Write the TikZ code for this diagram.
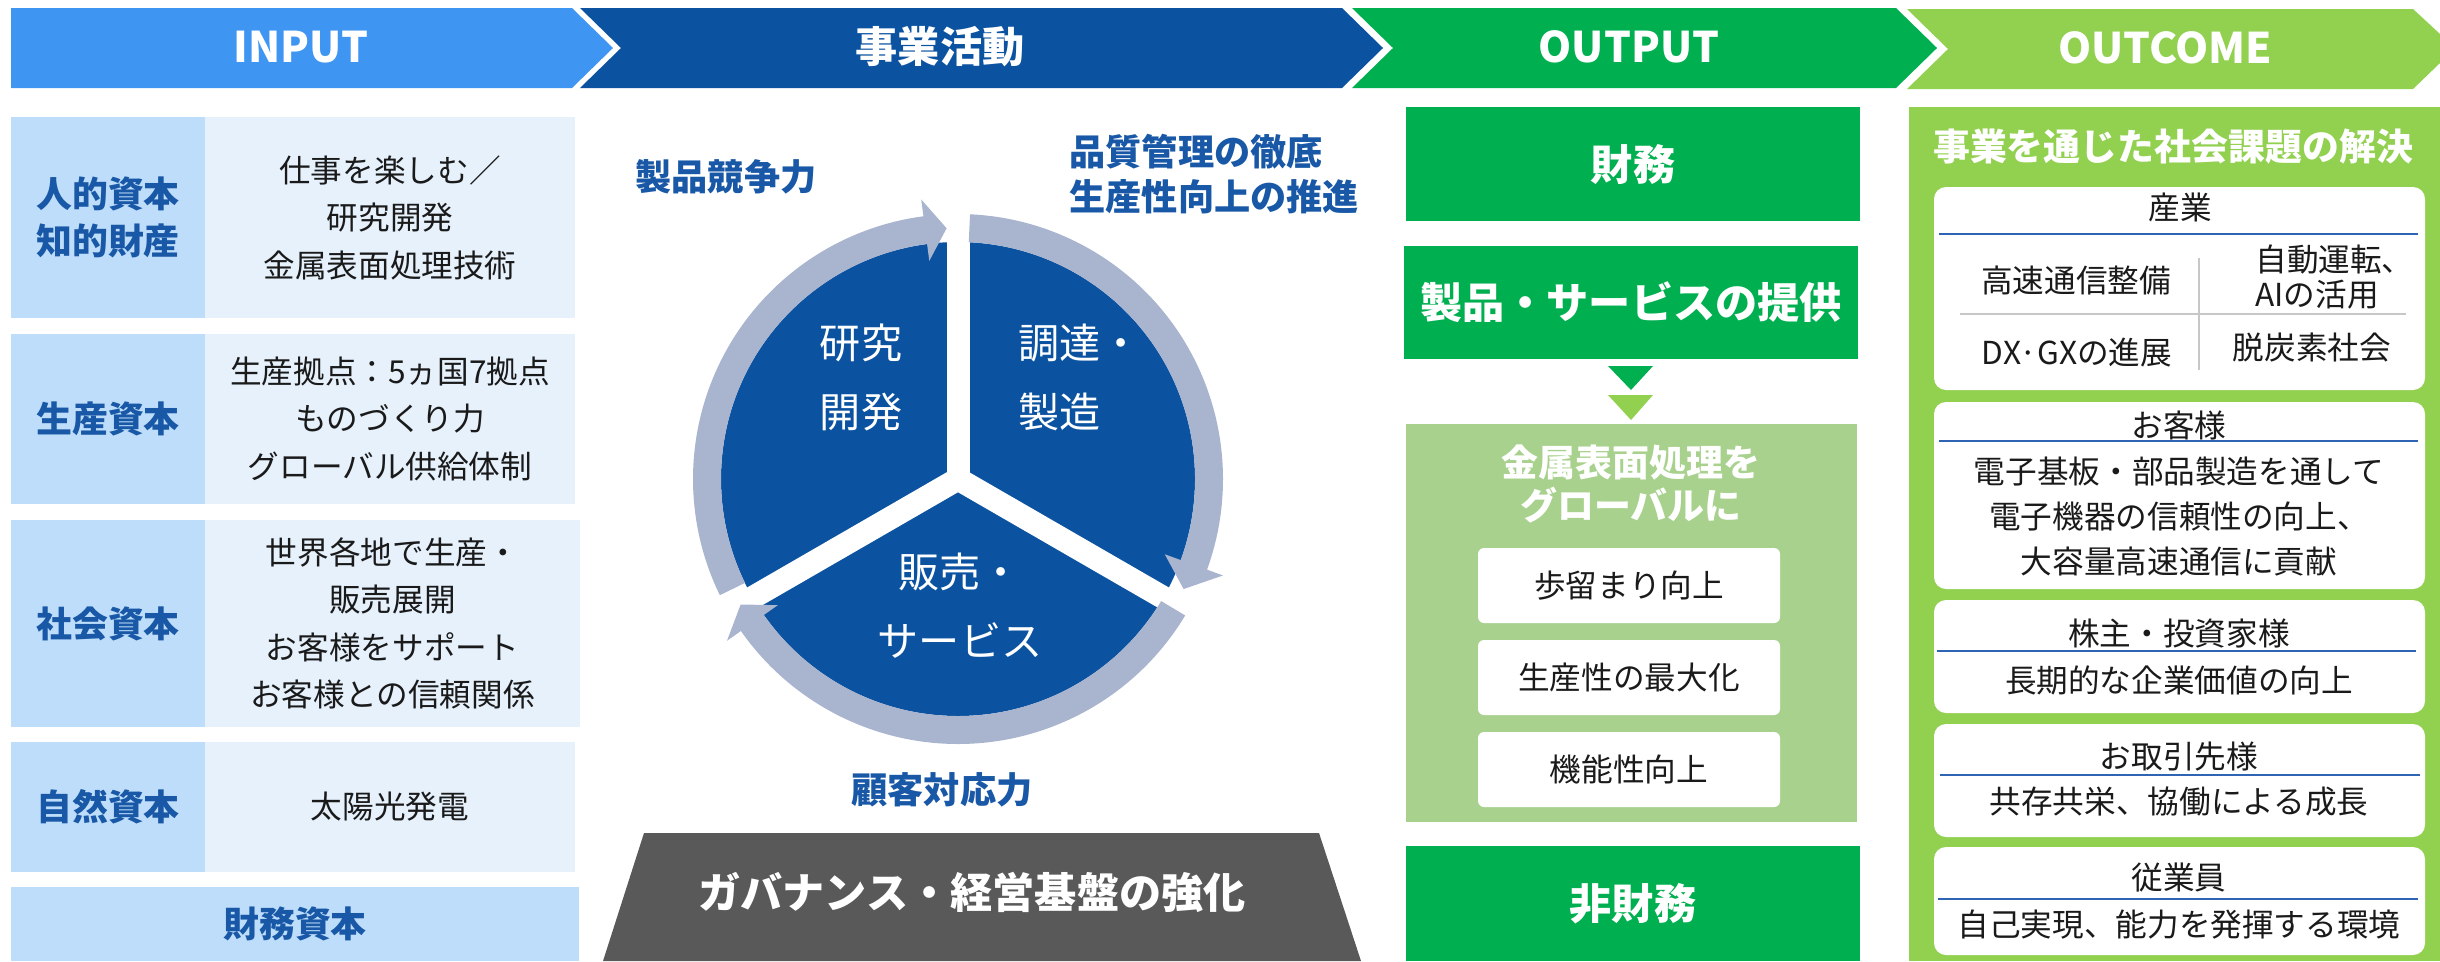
\documentclass[tikz,border=0pt]{standalone}
\usepackage{fontspec}
\setmainfont{Noto Sans CJK JP}

\definecolor{inblue}{RGB}{63,150,242}
\definecolor{actblue}{RGB}{11,82,160}
\definecolor{outgreen}{RGB}{0,176,80}
\definecolor{outcgreen}{RGB}{146,208,80}
\definecolor{capbg}{RGB}{189,221,250}
\definecolor{bodybg}{RGB}{230,241,252}
\definecolor{captext}{RGB}{24,88,166}
\definecolor{ringgray}{RGB}{169,180,207}
\definecolor{govgray}{RGB}{89,89,89}
\definecolor{panelgreen}{RGB}{169,209,142}
\definecolor{ruleblue}{RGB}{47,100,180}
\definecolor{inktext}{RGB}{26,26,26}

\begin{document}
\begin{tikzpicture}[
    hdr/.style={text=white, font=\bfseries\fontsize{12}{14}\selectfont},
    capname/.style={fill=capbg, text=captext, inner sep=0pt, minimum width=1.94cm, align=center, font=\bfseries\fontsize{10.2}{13.2}\selectfont},
    bodytext/.style={fill=bodybg, text=inktext, inner sep=0pt, minimum width=3.70cm, align=center, font=\fontsize{9}{13.5}\selectfont},
    sector/.style={text=white, align=center, font=\fontsize{11.7}{19.6}\selectfont},
    ringtag/.style={text=captext, font=\bfseries\fontsize{10.3}{12.8}\selectfont},
    outbox/.style={fill=outgreen, text=white, inner sep=0pt, minimum width=4.54cm, font=\bfseries\fontsize{12}{14}\selectfont},
    pill/.style={fill=white, text=inktext, rounded corners=0.06cm, inner sep=0pt, minimum width=3.02cm, minimum height=0.75cm, font=\fontsize{9}{12}\selectfont},
    card/.style={fill=white, rounded corners=0.12cm, inner sep=0pt, minimum width=4.91cm},
    small/.style={text=inktext, align=center, font=\fontsize{9}{12.8}\selectfont},
    whitetitle/.style={text=white, align=center, font=\bfseries\fontsize{10.5}{12}\selectfont},
    sep/.style={ruleblue, line width=0.7pt},
    grid/.style={black!22, line width=0.6pt}
]
\useasboundingbox (0,0) rectangle (24.40,-9.61);

% Header chevrons
\fill[inblue] (0.11,-0.08) -- (5.72,-0.08) -- (6.13,-0.48) -- (5.72,-0.88) -- (0.11,-0.88) -- cycle;
\fill[actblue] (5.80,-0.08) -- (13.42,-0.08) -- (13.83,-0.48) -- (13.42,-0.88) -- (5.80,-0.88) -- (6.21,-0.48) -- cycle;
\fill[outgreen] (13.52,-0.08) -- (18.96,-0.08) -- (19.37,-0.48) -- (18.96,-0.88) -- (13.52,-0.88) -- (13.93,-0.48) -- cycle;
\fill[outcgreen] (19.07,-0.09) -- (24.13,-0.09) -- (24.40,-0.34) -- (24.40,-0.63) -- (24.13,-0.89) -- (19.07,-0.89) -- (19.48,-0.49) -- cycle;
\node[hdr] (hin) at (3.01,-0.47) {INPUT};
\node[hdr] (hact) at (9.40,-0.47) {事業活動};
\node[hdr] (hout) at (16.29,-0.47) {OUTPUT};
\node[hdr] (houtc) at (21.65,-0.48) {OUTCOME};

% INPUT side
\node[capname, minimum height=2.01cm] (hum) at (1.08,-2.175) {人的資本\\知的財産};
\node[bodytext, minimum height=2.01cm] (humtxt) at (3.90,-2.175) {仕事を楽しむ／\\研究開発\\金属表面処理技術};
\node[capname, minimum height=1.70cm] (mfgcap) at (1.08,-4.19) {生産資本};
\node[bodytext, minimum height=1.70cm] (mfgtxt) at (3.90,-4.19) {生産拠点：5ヵ国7拠点\\ものづくり力\\グローバル供給体制};
\node[capname, minimum height=2.07cm] (soc) at (1.08,-6.235) {社会資本};
\node[bodytext, minimum height=2.07cm, minimum width=3.75cm] (soctxt) at (3.925,-6.235) {世界各地で生産・\\販売展開\\お客様をサポート\\お客様との信頼関係};
\node[capname, minimum height=1.30cm] (nat) at (1.08,-8.07) {自然資本};
\node[bodytext, minimum height=1.30cm] (nattxt) at (3.90,-8.07) {太陽光発電};
\node[capname, minimum width=5.68cm, minimum height=0.74cm] (money) at (2.95,-9.24) {財務資本};

% Business cycle
\begin{scope}[shift={(9.58,-4.79)}]
\fill[actblue] (0,0) circle (2.37);
\draw[white, line width=0.23cm] (0,0) -- (90:2.40);
\draw[white, line width=0.23cm] (0,0) -- (210:2.40);
\draw[white, line width=0.23cm] (0,0) -- (330:2.40);
% ring arrows, clockwise
\fill[ringgray] (206:2.65) arc[start angle=206, end angle=97.5, radius=2.65] -- (97.5:2.82) -- (92.6:2.51) -- (97.5:2.20) -- (97.5:2.37) arc[start angle=97.5, end angle=206, radius=2.37] -- cycle;
\fill[ringgray] (87.4:2.65) arc[start angle=87.4, end angle=-20, radius=2.65] -- (-20:2.82) -- (-26:2.51) -- (-20:2.20) -- (-20:2.37) arc[start angle=-20, end angle=87.4, radius=2.37] -- cycle;
\fill[ringgray] (-31:2.65) arc[start angle=-31, end angle=-145, radius=2.65] -- (-145:2.82) -- (-150:2.51) -- (-145:2.20) -- (-145:2.37) arc[start angle=-145, end angle=-31, radius=2.37] -- cycle;
\end{scope}

\node[sector] (rnd) at (8.61,-3.775) {研究\\開発};
\node[sector, anchor=west, align=left] (make) at (10.06,-3.775) {調達・\\製造};
\node[sector] (sales) at (9.60,-6.06) {販売・\\サービス};

% Labels round the cycle
\node[ringtag] (comp) at (7.26,-1.77) {製品競争力};
\node[ringtag, anchor=west, align=left] (qual) at (10.57,-1.745) {品質管理の徹底\\生産性向上の推進};
\node[ringtag] (cust) at (9.42,-7.90) {顧客対応力};

% Governance base
\fill[govgray] (6.44,-8.33) -- (13.19,-8.33) -- (13.61,-9.61) -- (6.03,-9.61) -- cycle;
\node[hdr] (gov) at (9.72,-8.92) {ガバナンス・経営基盤の強化};

% OUTPUT side
\node[outbox, minimum height=1.14cm] (fin) at (16.33,-1.64) {財務};
\node[outbox, minimum height=1.13cm] (prod) at (16.31,-3.025) {製品・サービスの提供};
\fill[outgreen] (16.08,-3.66) -- (16.53,-3.66) -- (16.31,-3.90) -- cycle;
\fill[outcgreen] (16.08,-3.95) -- (16.53,-3.95) -- (16.31,-4.20) -- cycle;
\node[fill=panelgreen, inner sep=0pt, minimum width=4.51cm, minimum height=3.98cm] (glob) at (16.315,-6.23) {};
\node[whitetitle] (globt) at (16.31,-4.84) {金属表面処理を\\グローバルに};
\node[pill] (yield) at (16.29,-5.855) {歩留まり向上};
\node[pill] (prodv) at (16.29,-6.775) {生産性の最大化};
\node[pill] (func) at (16.29,-7.695) {機能性向上};
\node[outbox, minimum height=1.15cm] (nonfin) at (16.33,-9.035) {非財務};

% OUTCOME side
\node[fill=outcgreen, inner sep=0pt, minimum width=5.31cm, minimum height=8.54cm] (outc) at (21.745,-5.34) {};
\node[whitetitle] (solve) at (21.73,-1.47) {事業を通じた社会課題の解決};

\node[card, minimum height=2.03cm] (ind) at (21.795,-2.885) {};
\node[small] (indt) at (21.80,-2.07) {産業};
\draw[sep] (19.39,-2.34) -- (24.18,-2.34);
\draw[grid] (21.99,-2.58) -- (21.99,-3.70);
\draw[grid] (19.60,-3.14) -- (24.06,-3.14);
\node[small] (net) at (20.76,-2.80) {高速通信整備};
\node[small, anchor=west, align=left, font=\fontsize{9}{9.7}\selectfont] (auto) at (22.43,-2.77) {自動運転、\\AIの活用};
\node[small] (dx) at (20.77,-3.53) {DX·GXの進展};
\node[small] (carbon) at (23.12,-3.48) {脱炭素社会};

\node[card, minimum height=1.87cm] (client) at (21.795,-4.955) {};
\node[small] (clientt) at (21.79,-4.25) {お客様};
\draw[sep] (19.39,-4.41) -- (24.18,-4.41);
\node[small] (clientx) at (21.79,-5.17) {電子基板・部品製造を通して\\電子機器の信頼性の向上、\\大容量高速通信に貢献};

\node[card, minimum height=1.13cm] (share) at (21.795,-6.565) {};
\node[small] (sharet) at (21.79,-6.33) {株主・投資家様};
\draw[sep] (19.37,-6.51) -- (24.16,-6.51);
\node[small] (sharex) at (21.79,-6.80) {長期的な企業価値の向上};

\node[card, minimum height=1.13cm] (partner) at (21.795,-7.805) {};
\node[small] (partnert) at (21.79,-7.57) {お取引先様};
\draw[sep] (19.40,-7.75) -- (24.20,-7.75);
\node[small] (partnerx) at (21.79,-8.02) {共存共栄、協働による成長};

\node[card, minimum height=1.08cm] (staff) at (21.795,-9.01) {};
\node[small] (stafft) at (21.79,-8.78) {従業員};
\draw[sep] (19.38,-8.99) -- (24.18,-8.99);
\node[small] (staffx) at (21.79,-9.25) {自己実現、能力を発揮する環境};

\end{tikzpicture}
\end{document}
